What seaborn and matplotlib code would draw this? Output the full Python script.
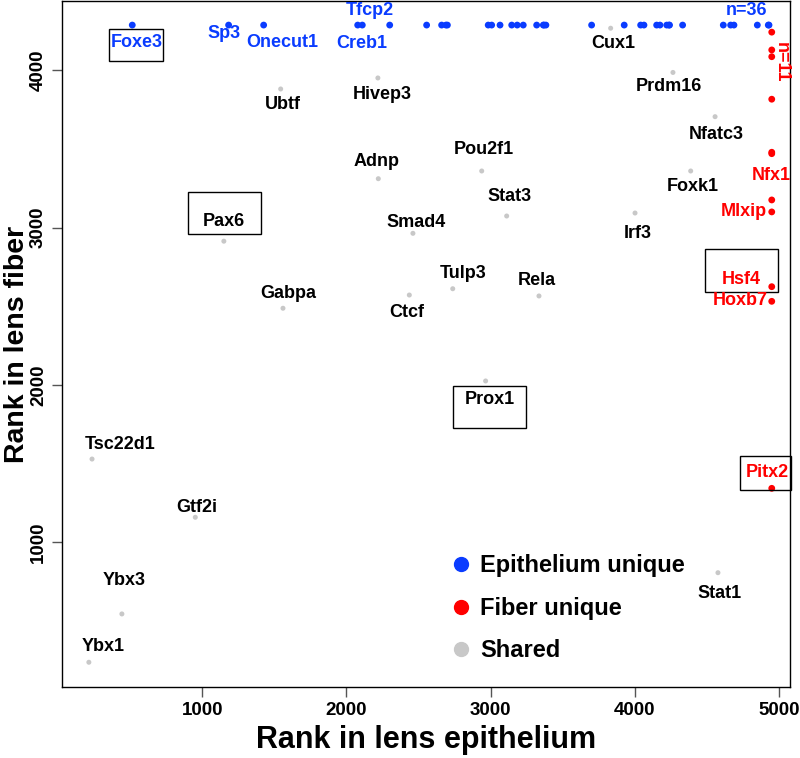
import numpy as np
import pandas as pd
import matplotlib
matplotlib.use('Agg')
import matplotlib.pyplot as plt
from matplotlib.patches import Rectangle
from matplotlib.lines import Line2D
import seaborn as sns

# shared TFs (rank in epithelium, rank in fiber)
shared_genes = ['Cux1', 'Prdm16', 'Ubtf', 'Hivep3', 'Nfatc3', 'Adnp', 'Pou2f1', 'Foxk1',
                'Stat3', 'Irf3', 'Pax6', 'Smad4', 'Tulp3', 'Rela', 'Gabpa', 'Ctcf',
                'Prox1', 'Tsc22d1', 'Gtf2i', 'Ybx3', 'Ybx1', 'Stat1']
shared_epi = [3832, 4264, 1544, 2218, 4556, 2221, 2938, 4387,
              3111, 4001, 1150, 2461, 2737, 3335, 1560, 2436,
              2965, 236, 952, 443, 214, 4576]
shared_fiber = [4267, 3986, 3881, 3951, 3705, 3311, 3360, 3360,
                3074, 3093, 2914, 2964, 2612, 2566, 2488, 2572,
                2026, 1530, 1160, 546, 239, 808]

# epithelium unique TFs (n=36), no rank in fiber -> drawn on top strip
epi_genes = ['Foxe3', 'Sp3', 'Onecut1', 'Creb1', 'Tfcp2'] + [''] * 31
epi_epi = [515, 1183, 1426, 2078, 2110, 2300, 2556, 2660, 2690, 2700,
           2983, 3007, 3065, 3146, 3184, 3226, 3319, 3365, 3370, 3383,
           3700, 3926, 4040, 4063, 4151, 4174, 4221, 4237, 4240, 4331,
           4613, 4664, 4687, 4849, 4925, 4930]
epi_fiber = [4287, 4287, 4287, 4287, 4287, 4287, 4287, 4287, 4287, 4287,
             4287, 4287, 4287, 4287, 4287, 4287, 4287, 4287, 4287, 4287,
             4287, 4287, 4287, 4287, 4287, 4287, 4287, 4287, 4287, 4287,
             4287, 4287, 4287, 4287, 4287, 4287]

# fiber unique TFs (n=11), no rank in epithelium -> drawn on right strip
fib_genes = ['', '', '', '', 'Nfx1', '', '', 'Mlxip', 'Hsf4', 'Hoxb7', 'Pitx2']
fib_epi = [4949, 4949, 4949, 4949, 4949, 4949, 4949, 4949, 4949, 4949, 4949]
fib_fiber = [4242, 4129, 4086, 3816, 3479, 3470, 3176, 3100, 2625, 2532, 1344]

# label offsets in pixels (dx, dy)
offsets = {
    'Foxe3': (4, -17), 'Sp3': (-5, -8), 'Onecut1': (19, -17), 'Creb1': (4, -18),
    'Tfcp2': (8, 15), 'Cux1': (3, -15), 'Prdm16': (-4, -14), 'Ubtf': (2, -16),
    'Hivep3': (4, -17), 'Nfatc3': (1, -18), 'Adnp': (-2, 17), 'Pou2f1': (2, 21),
    'Foxk1': (2, -16), 'Stat3': (3, 20), 'Irf3': (3, -20), 'Pax6': (0, 20),
    'Smad4': (3, 11), 'Tulp3': (10, 15), 'Rela': (-2, 15), 'Gabpa': (5, 15),
    'Ctcf': (-3, -17), 'Prox1': (4, -19), 'Tsc22d1': (28, 15), 'Gtf2i': (1, 10),
    'Ybx3': (2, 33), 'Ybx1': (14, 16), 'Stat1': (2, -21),
    'Nfx1': (0, -23), 'Mlxip': (-28, 0), 'Hsf4': (-30, 7), 'Hoxb7': (-31, 1),
    'Pitx2': (-4, 16),
}
# boxed labels (x0, y0, x1, y1) in data units
boxes = [(353, 4059, 730, 4261), (899, 2958, 1407, 3225), (2737, 1727, 3243, 1994),
         (4484, 2593, 4992, 2863), (4732, 1334, 5080, 1551)]

BLUE = '#0A3CFF'
RED = '#FF0000'
GRAY = '#C8C8C8'

sns.set_style('white')
font = ['Liberation Sans', 'DejaVu Sans']
plt.rcParams['font.family'] = font
plt.rcParams['text.color'] = 'black'
plt.rcParams['axes.labelcolor'] = 'black'
plt.rcParams['xtick.color'] = '#555555'
plt.rcParams['ytick.color'] = '#555555'
plt.rcParams['xtick.labelcolor'] = 'black'
plt.rcParams['ytick.labelcolor'] = 'black'

df = pd.concat([
    pd.DataFrame({'gene': shared_genes, 'epi': shared_epi, 'fiber': shared_fiber, 'group': 'Shared'}),
    pd.DataFrame({'gene': epi_genes, 'epi': epi_epi, 'fiber': epi_fiber, 'group': 'Epithelium unique'}),
    pd.DataFrame({'gene': fib_genes, 'epi': fib_epi, 'fiber': fib_fiber, 'group': 'Fiber unique'}),
], ignore_index=True)

palette = {'Epithelium unique': BLUE, 'Fiber unique': RED, 'Shared': GRAY}

fig = plt.figure(figsize=(8, 7.58), dpi=100)
ax = fig.add_axes([0.077, 0.0937, 0.9104, 0.905])

sns.scatterplot(data=df, x='epi', y='fiber', hue='group', palette=palette,
                size='group', sizes={'Epithelium unique': 24, 'Fiber unique': 24, 'Shared': 13},
                edgecolor='none', linewidth=0, legend=False, ax=ax)

text_color = {'Epithelium unique': BLUE, 'Fiber unique': RED, 'Shared': 'black'}
for _, row in df.iterrows():
    if row['gene'] == '':
        continue
    dx, dy = offsets[row['gene']]
    ax.annotate(row['gene'], (row['epi'], row['fiber']), xytext=(dx, dy),
                textcoords='offset pixels', ha='center', va='center',
                fontsize=13, fontweight='bold', color=text_color[row['group']],
                annotation_clip=False)

for x0, y0, x1, y1 in boxes:
    ax.add_patch(Rectangle((x0, y0), x1 - x0, y1 - y0, fill=False,
                           ec='black', lw=1.0, clip_on=False))

ax.text(4775, 4377, 'n=36', color=BLUE, fontsize=13, fontweight='bold',
        ha='center', va='center')
ax.text(5014, 4053, 'n=11', color=RED, fontsize=13, fontweight='bold',
        ha='center', va='center', rotation=270, clip_on=False)

ax.set_xlim(25, 5075)
ax.set_ylim(82, 4440)
ax.set_xticks([1000, 2000, 3000, 4000, 5000])
ax.set_yticks([1000, 2000, 3000, 4000])
ax.tick_params(axis='both', direction='out', length=7, width=1,
               labelsize=13.5, pad=3.5, bottom=True, left=True)
for lbl in ax.get_xticklabels() + ax.get_yticklabels():
    lbl.set_fontweight('bold')
plt.setp(ax.get_yticklabels(), rotation=90, va='center')

for sp in ax.spines.values():
    sp.set_color('black')
    sp.set_linewidth(1.0)

ax.set_xlabel('Rank in lens epithelium', fontsize=22, fontweight='bold')
ax.set_ylabel('Rank in lens fiber', fontsize=20.5, fontweight='bold')
ax.xaxis.set_label_coords(0.5, -0.055)
ax.yaxis.set_label_coords(-0.043, 0.5)

handles = [Line2D([], [], marker='o', ls='none', color=palette[g], markersize=10)
           for g in ['Epithelium unique', 'Fiber unique', 'Shared']]
ax.legend(handles, ['Epithelium unique', 'Fiber unique', 'Shared'],
          loc='center left', bbox_to_anchor=(0.536, 0.1147), frameon=False,
          borderpad=0, borderaxespad=0, handlelength=0.8, handletextpad=0.4,
          labelspacing=0.82, prop={'weight': 'bold', 'size': 17})

fig.savefig('out.png', dpi=100)
